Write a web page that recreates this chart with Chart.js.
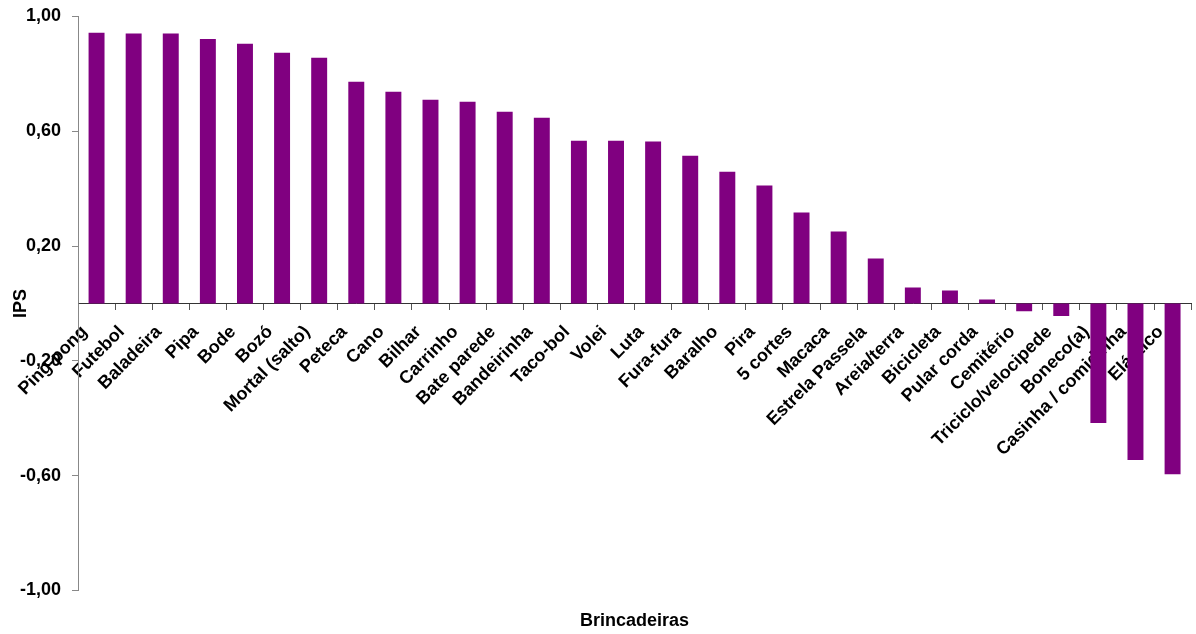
<!DOCTYPE html>
<html>
<head>
<meta charset="utf-8">
<script src="https://cdn.jsdelivr.net/npm/chart.js@4/dist/chart.umd.min.js"></script>
<style>
  html, body { margin: 0; padding: 0; background: #fff; overflow: hidden; }
  #wrap { position: relative; width: 1200px; height: 634px; }
</style>
</head>
<body>
<div id="wrap"><canvas id="chart"></canvas></div>
<script>
const categories = [
  'Ping-pong', 'Futebol', 'Baladeira', 'Pipa', 'Bode', 'Bozó', 'Mortal (salto)', 'Peteca',
  'Cano', 'Bilhar', 'Carrinho', 'Bate parede', 'Bandeirinha', 'Taco-bol', 'Volei', 'Luta',
  'Fura-fura', 'Baralho', 'Pira', '5 cortes', 'Macaca', 'Estrela Passela', 'Areia/terra',
  'Bicicleta', 'Pular corda', 'Cemitério', 'Triciclo/velocipede', 'Boneco(a)',
  'Casinha / comidinha', 'Elástico'
];
const ipsValues = [
  0.943, 0.941, 0.941, 0.922, 0.905, 0.874, 0.856, 0.773,
  0.738, 0.710, 0.703, 0.668, 0.647, 0.567, 0.567, 0.564,
  0.515, 0.459, 0.411, 0.317, 0.251, 0.157, 0.056,
  0.045, 0.014, -0.027, -0.044, -0.417,
  -0.546, -0.595
];
const yTicks = [-1, -0.6, -0.2, 0.2, 0.6, 1];

const fontBold = { family: '"Liberation Sans", Arial, sans-serif', size: 18, weight: 'bold' };

const ctx = document.getElementById('chart').getContext('2d');
new Chart(ctx, {
  type: 'bar',
  data: {
    labels: categories,
    datasets: [{
      label: 'IPS',
      data: ipsValues,
      backgroundColor: '#800080',
      borderWidth: 0,
      barPercentage: 0.43,
      categoryPercentage: 1
    }]
  },
  options: {
    responsive: true,
    maintainAspectRatio: false,
    animation: false,
    layout: { padding: { top: 16.5, right: 2, left: 0, bottom: 0 } },
    scales: {
      x: {
        position: { y: 0 },
        grid: {
          offset: true,
          drawOnChartArea: false,
          drawTicks: true,
          tickLength: 6,
          color: '#555'
        },
        border: { display: true, color: '#333', width: 1 },
        ticks: {
          autoSkip: false,
          minRotation: 45,
          maxRotation: 45,
          padding: 12,
          labelOffset: -12,
          color: '#000',
          font: fontBold
        }
      },
      y: {
        min: -1,
        max: 1,
        afterFit: (scale) => {
          scale.width = 78;
          scale.paddingTop = 0;
          scale.paddingBottom = 0;
        },
        afterBuildTicks: (scale) => { scale.ticks = yTicks.map(v => ({ value: v })); },
        grid: {
          drawOnChartArea: false,
          drawTicks: true,
          tickLength: 6,
          color: '#888'
        },
        border: { display: true, color: '#888', width: 1 },
        ticks: {
          padding: 11,
          color: '#000',
          font: fontBold,
          callback: (value) => value.toFixed(2).replace('.', ',')
        },
        title: {
          display: true,
          text: 'IPS',
          color: '#000',
          font: fontBold,
          padding: { top: 10, bottom: 0 }
        }
      }
    },
    plugins: {
      legend: { display: false },
      tooltip: { enabled: false },
      title: {
        display: true,
        text: 'Brincadeiras',
        position: 'bottom',
        fullSize: false,
        color: '#000',
        font: fontBold,
        padding: { top: 20, bottom: 2 }
      }
    }
  }
});
</script>
</body>
</html>
